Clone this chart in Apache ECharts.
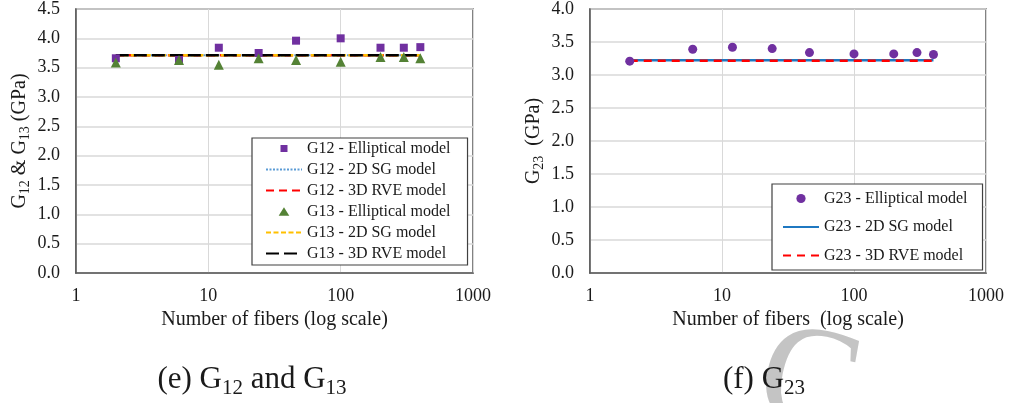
<!DOCTYPE html>
<html style="height: 100%">
   <head>
       <meta charset="utf-8">
   </head>
   <body style="height: 100%; margin: 0; background: #fff">
       <div id="container" style="width: 1009px; height: 403px"></div>
       <script type="text/javascript" src="https://cdn.jsdelivr.net/npm/echarts@6/dist/echarts.min.js"></script>
       <script type="text/javascript">
// number of fibers (x, log scale)
var fibers = [2, 6, 12, 24, 46, 100, 200, 300, 400];

// (e) G12 and G13
var g12Elliptical = [3.66, 3.63, 3.84, 3.75, 3.96, 4.00, 3.84, 3.84, 3.85];
var g12SG2D      = [3.71, 3.71, 3.71, 3.71, 3.71, 3.71, 3.71, 3.71, 3.71];
var g12RVE3D     = [3.71, 3.71, 3.71, 3.71, 3.71, 3.71, 3.71, 3.71, 3.71];
var g13Elliptical = [3.59, 3.63, 3.55, 3.66, 3.63, 3.60, 3.68, 3.68, 3.66];
var g13SG2D      = [3.71, 3.71, 3.71, 3.71, 3.71, 3.71, 3.71, 3.71, 3.71];
var g13RVE3D     = [3.71, 3.71, 3.71, 3.71, 3.71, 3.71, 3.71, 3.71, 3.71];

// (f) G23
var g23Elliptical = [3.21, 3.39, 3.42, 3.40, 3.34, 3.32, 3.32, 3.34, 3.31];
var g23SG2D      = [3.225, 3.225, 3.225, 3.225, 3.225, 3.225, 3.225, 3.225, 3.225];
var g23RVE3D     = [3.215, 3.215, 3.215, 3.215, 3.215, 3.215, 3.215, 3.215, 3.215];

var xTicks = [1, 10, 100, 1000];

function pairs(ys) {
    return fibers.map(function (x, i) { return [x, ys[i]]; });
}

var serif = 'Liberation Serif';
var dom = document.getElementById("container");
var myChart = echarts.init(dom);
var option = null;

function xAxisFor(idx, name) {
    return {
        type: 'log', logBase: 10, min: 1, max: 1000, gridIndex: idx,
        name: name, nameLocation: 'middle', nameGap: 36,
        nameTextStyle: {fontFamily: serif, fontSize: 20, color: '#1a1a1a'},
        axisLine: {lineStyle: {color: '#595959', width: 1.5}},
        axisTick: {show: false},
        axisLabel: {fontFamily: serif, fontSize: 18, color: '#1a1a1a', margin: 14,
            formatter: function (v) { return xTicks.indexOf(Math.round(v)) >= 0 ? String(Math.round(v)) : ''; }},
        splitLine: {show: true, lineStyle: {color: '#d9d9d9', width: 1}},
        minorTick: {show: false}, minorSplitLine: {show: false}
    };
}

function yAxisFor(idx, max, name, rich) {
    return {
        type: 'value', min: 0, max: max, interval: 0.5, gridIndex: idx,
        name: name, nameLocation: 'middle', nameGap: 44, nameRotate: 90,
        nameTextStyle: {fontFamily: serif, fontSize: 20, color: '#1a1a1a', rich: rich},
        axisLine: {show: true, lineStyle: {color: '#595959', width: 1.5}},
        axisTick: {show: false},
        axisLabel: {fontFamily: serif, fontSize: 18, color: '#1a1a1a', margin: 16,
            formatter: function (v) { return v.toFixed(1); }},
        splitLine: {show: true, lineStyle: {color: '#d9d9d9', width: 1.5}}
    };
}

var nameRich = {
    a: {fontFamily: serif, fontSize: 20, color: '#1a1a1a'},
    s: {fontFamily: serif, fontSize: 14, color: '#1a1a1a', padding: [11, 0, 0, 0]}
};

function lineSeries(name, data, color, type, width, xi, z) {
    return {
        name: name, type: 'line', xAxisIndex: xi, yAxisIndex: xi,
        data: pairs(data), symbol: 'none', z: z, silent: true,
        itemStyle: {color: color, opacity: 0},
        lineStyle: {color: color, type: type, width: width}
    };
}

var legendText = {fontFamily: serif, fontSize: 16, color: '#1a1a1a', lineHeight: 17};

// icons with empty corners keep the marker small inside the legend slot
var squareIcon = 'path://M0,0L0,0M2.5,2.5L7.5,2.5L7.5,7.5L2.5,7.5ZM10,10L10,10';
var triIcon = 'path://M0,0L0,0M5,2L8.8,8L1.2,8ZM10,10L10,10';
var dotIcon = 'path://M0,0L0,0M5,1.7A3.3,3.3,0,1,1,5,8.3A3.3,3.3,0,1,1,5,1.7ZM10,10L10,10';

var captionRich = {
    a: {fontFamily: serif, fontSize: 31, fill: '#1a1a1a'},
    s: {fontFamily: serif, fontSize: 21, fill: '#1a1a1a', padding: [16, 0, 0, 0]}
};

option = {
    backgroundColor: '#fff',
    animation: false,
    grid: [
        {left: 76, top: 8, width: 397, height: 265, show: true, borderColor: '#595959', borderWidth: 1.5},
        {left: 590, top: 8, width: 396, height: 265, show: true, borderColor: '#595959', borderWidth: 1.5}
    ],
    xAxis: [
        xAxisFor(0, 'Number of fibers (log scale)'),
        xAxisFor(1, 'Number of fibers  (log scale)')
    ],
    yAxis: [
        yAxisFor(0, 4.5, '{a|G}{s|12}{a| & G}{s|13}{a| (GPa)}', nameRich),
        yAxisFor(1, 4.0, '{a|G}{s|23}{a|  (GPa)}', nameRich)
    ],
    legend: [
        {
            orient: 'vertical', left: 252, top: 138, itemWidth: 36, itemHeight: 14, itemGap: 4,
            padding: [2, 17, 3, 13], backgroundColor: '#fff', borderColor: '#404040', borderWidth: 1.2,
            textStyle: legendText, selectedMode: false,
            data: [
                {name: 'G12 - Elliptical model', icon: squareIcon},
                'G12 - 2D SG model', 'G12 - 3D RVE model',
                {name: 'G13 - Elliptical model', icon: triIcon},
                'G13 - 2D SG model', 'G13 - 3D RVE model'
            ]
        },
        {
            orient: 'vertical', left: 772, top: 184, itemWidth: 36, itemHeight: 14, itemGap: 11.5,
            padding: [6, 15, 6, 10], backgroundColor: '#fff', borderColor: '#404040', borderWidth: 1.2,
            textStyle: legendText, selectedMode: false,
            data: [
                {name: 'G23 - Elliptical model', icon: dotIcon},
                'G23 - 2D SG model', 'G23 - 3D RVE model'
            ]
        }
    ],
    series: [
        lineSeries('G12 - 2D SG model', g12SG2D, '#5b9bd5', [2, 1.5], 2, 0, 2),
        lineSeries('G12 - 3D RVE model', g12RVE3D, '#ff0000', [8, 5], 2.5, 0, 3),
        lineSeries('G13 - 2D SG model', g13SG2D, '#ffc000', [5, 2.5], 2.5, 0, 4),
        lineSeries('G13 - 3D RVE model', g13RVE3D, '#000000', [13, 5], 2.5, 0, 5),
        {
            name: 'G12 - Elliptical model', type: 'scatter', xAxisIndex: 0, yAxisIndex: 0, z: 6,
            data: pairs(g12Elliptical), symbol: 'rect', symbolSize: 8,
            itemStyle: {color: '#7030a0', opacity: 1}
        },
        {
            name: 'G13 - Elliptical model', type: 'scatter', xAxisIndex: 0, yAxisIndex: 0, z: 7,
            data: pairs(g13Elliptical), symbol: 'triangle', symbolSize: 10,
            itemStyle: {color: '#548235', opacity: 1}
        },
        lineSeries('G23 - 2D SG model', g23SG2D, '#1f78c1', 'solid', 2.5, 1, 2),
        lineSeries('G23 - 3D RVE model', g23RVE3D, '#ff0000', [8, 6], 2.5, 1, 3),
        {
            name: 'G23 - Elliptical model', type: 'scatter', xAxisIndex: 1, yAxisIndex: 1, z: 6,
            data: pairs(g23Elliptical), symbol: 'circle', symbolSize: 9,
            itemStyle: {color: '#7030a0', opacity: 1}
        }
    ],
    graphic: [
        {
            type: 'text', left: 745, top: 305, z: -10, rotation: -0.2,
            style: {text: 'C', fontFamily: serif, fontSize: 150, fill: '#c4c4c4'}
        },
        {
            type: 'text', x: 252, y: 380,
            style: {text: '{a|(e) G}{s|12}{a| and G}{s|13}', align: 'center', verticalAlign: 'middle', rich: captionRich}
        },
        {
            type: 'text', x: 764, y: 380,
            style: {text: '{a|(f) G}{s|23}', align: 'center', verticalAlign: 'middle', rich: captionRich}
        }
    ]
};

if (option && typeof option === "object") {
    myChart.setOption(option, true);
}
       </script>
   </body>
</html>
